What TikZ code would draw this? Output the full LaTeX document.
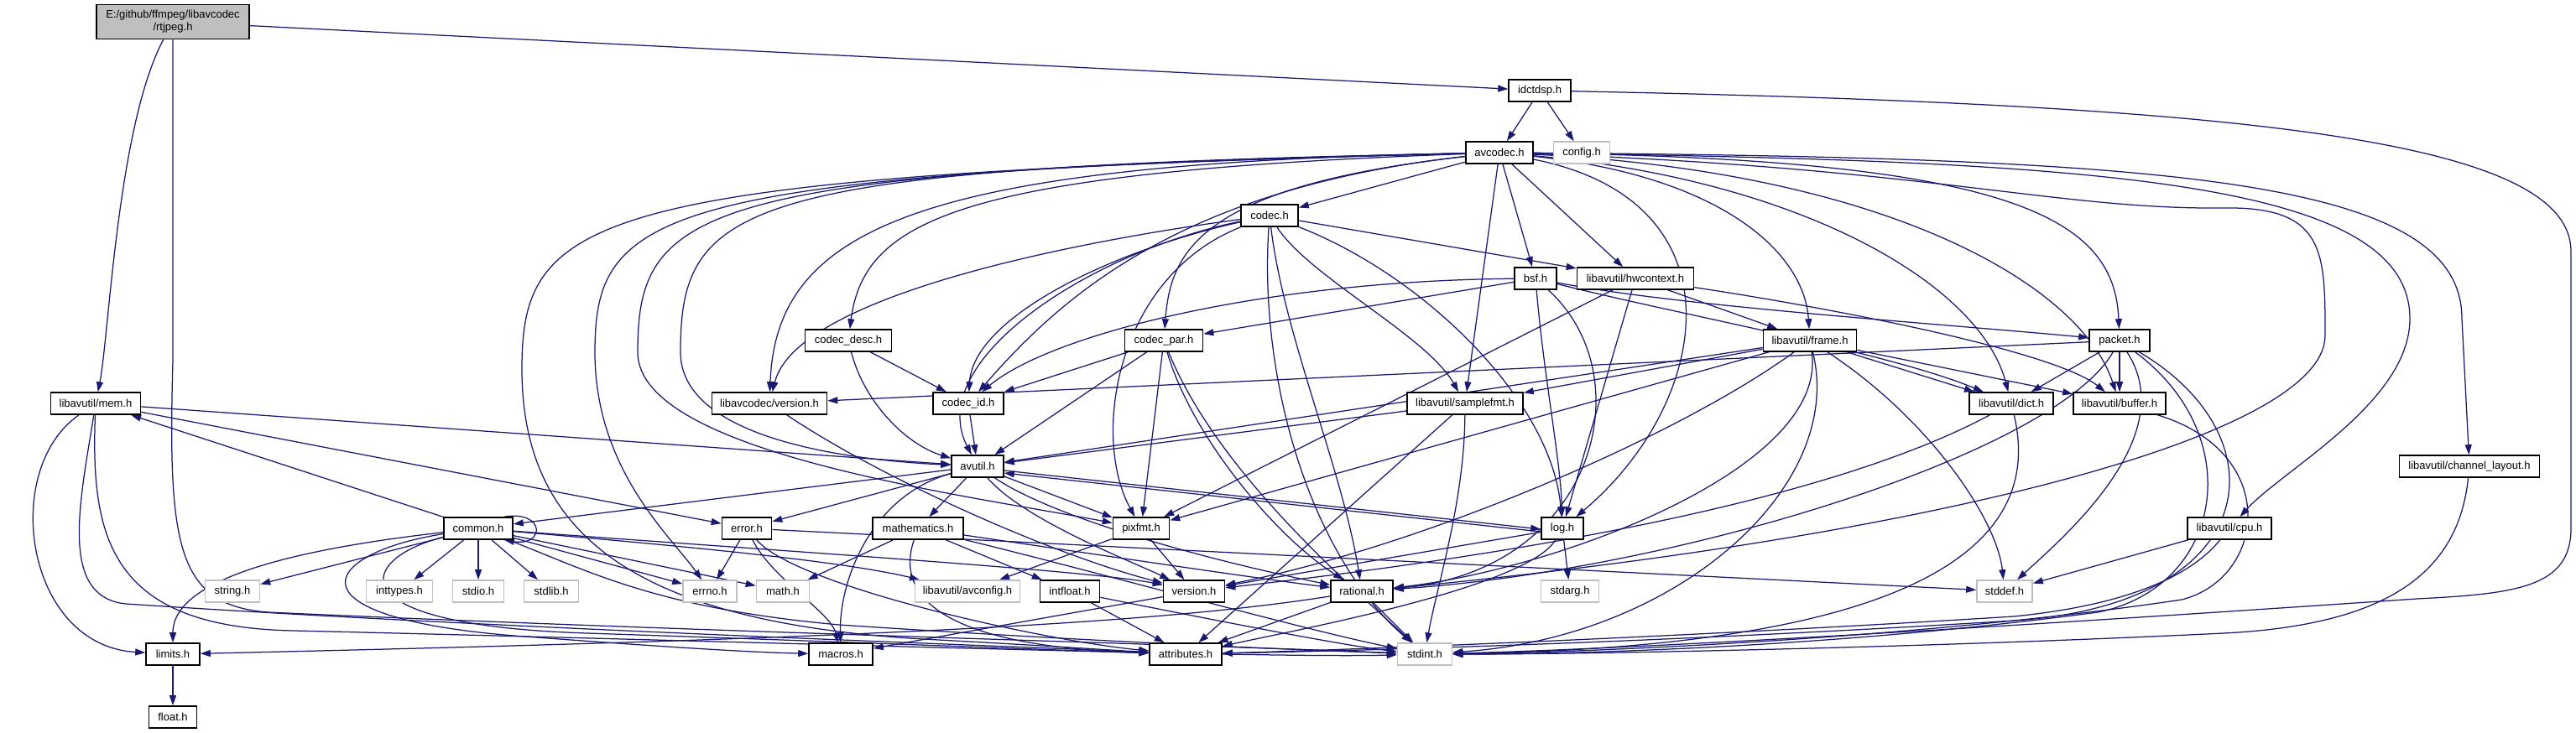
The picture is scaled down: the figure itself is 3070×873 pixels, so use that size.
\documentclass[tikz,border=0pt]{standalone}
\usepackage{fontspec}
\setmainfont{Liberation Sans}
\usetikzlibrary{arrows.meta,backgrounds}
\definecolor{edgec}{HTML}{191970}
\definecolor{grayb}{HTML}{BFBFBF}
\pgfdeclarelayer{back}
\pgfdeclarelayer{edges}
\pgfsetlayers{back,edges,main}
\newcommand\nfs{\fontsize{13}{15}\selectfont}
\begin{document}
\begin{tikzpicture}[x=1pt,y=-1pt,
  nb/.style={draw=black,line width=1.6pt,fill=white,minimum height=26pt,inner sep=0pt,font=\nfs},
  ng/.style={nb,draw=grayb},
  edg/.style={draw=edgec,line width=1.25pt,-{Triangle[length=12pt,width=8pt]}}]
\begin{pgfonlayer}{back}
\fill[white] (0,0) rectangle (3070,873);
\end{pgfonlayer}
\useasboundingbox (0,0) rectangle (3070,873);
% nodes
\node[nb,fill=grayb,minimum width=182pt,minimum height=41pt,align=center] (R) at (206,26) {E:/github/ffmpeg/libavcodec\\/rtjpeg.h};
\node[nb,minimum width=74pt] (I) at (1835,108) {idctdsp.h};
\node[nb,minimum width=80pt] (A) at (1787,182) {avcodec.h};
\node[ng,minimum width=67pt] (CFG) at (1885,182) {config.h};
\node[nb,minimum width=68pt] (C) at (1513,257) {codec.h};
\node[nb,minimum width=50pt] (B) at (1830,332) {bsf.h};
\node[nb,minimum width=139pt] (H) at (1949,332) {libavutil/hwcontext.h};
\node[nb,minimum width=103pt] (CD) at (1011,406) {codec\_desc.h};
\node[nb,minimum width=93pt] (CP) at (1387,406) {codec\_par.h};
\node[nb,minimum width=111pt] (F) at (2157,406) {libavutil/frame.h};
\node[nb,minimum width=72pt] (P) at (2526,406) {packet.h};
\node[nb,minimum width=107pt] (M) at (114,481) {libavutil/mem.h};
\node[nb,minimum width=137pt] (LV) at (917,481) {libavcodec/version.h};
\node[nb,minimum width=84pt] (CI) at (1154,481) {codec\_id.h};
\node[nb,minimum width=138pt] (S) at (1746,481) {libavutil/samplefmt.h};
\node[nb,minimum width=100pt] (D) at (2397,481) {libavutil/dict.h};
\node[nb,minimum width=110pt] (BU) at (2526,481) {libavutil/buffer.h};
\node[nb,minimum width=62pt] (AU) at (1165,556) {avutil.h};
\node[nb,minimum width=167pt] (CL) at (2943,556) {libavutil/channel\_layout.h};
\node[nb,minimum width=82pt] (CO) at (570,630) {common.h};
\node[nb,minimum width=59pt] (E) at (890,630) {error.h};
\node[nb,minimum width=108pt] (MA) at (1094,630) {mathematics.h};
\node[nb,minimum width=67pt] (PX) at (1360,630) {pixfmt.h};
\node[nb,minimum width=50pt] (L) at (1862,630) {log.h};
\node[nb,minimum width=100pt] (CPU) at (2657,630) {libavutil/cpu.h};
\node[ng,minimum width=65pt] (STR) at (277,705) {string.h};
\node[ng,minimum width=79pt] (INT) at (476,705) {inttypes.h};
\node[ng,minimum width=61pt] (SIO) at (570,705) {stdio.h};
\node[ng,minimum width=65pt] (SLB) at (657,705) {stdlib.h};
\node[ng,minimum width=64pt] (ERN) at (846,705) {errno.h};
\node[ng,minimum width=63pt] (MTH) at (933,705) {math.h};
\node[ng,minimum width=125pt] (AVC) at (1153,705) {libavutil/avconfig.h};
\node[nb,minimum width=71pt] (IF) at (1275,705) {intfloat.h};
\node[nb,minimum width=73pt] (V) at (1423,705) {version.h};
\node[nb,minimum width=74pt] (RA) at (1623,705) {rational.h};
\node[ng,minimum width=69pt] (SA) at (1871,705) {stdarg.h};
\node[ng,minimum width=66pt] (SD) at (2389,705) {stddef.h};
\node[nb,minimum width=64pt] (LI) at (206,780) {limits.h};
\node[nb,minimum width=76pt] (MAC) at (1002,780) {macros.h};
\node[nb,minimum width=86pt] (AT) at (1413,780) {attributes.h};
\node[ng,minimum width=65pt] (SI) at (1698,780) {stdint.h};
\node[nb,minimum width=57pt] (FL) at (206,855) {float.h};
\begin{pgfonlayer}{edges}
% rtjpeg
\draw[edg] (R) -- (I);
\draw[edg] (R) .. controls (140,150) and (130,400) .. (M);
\draw[edg] (R.south) -- (206,430) .. controls (200,650) and (210,722) .. (320,730) .. controls (800,752) and (1400,768) .. (SI);
% idctdsp
\draw[edg] (I) -- (A);
\draw[edg] (I) -- (CFG);
\draw[edg] (I) .. controls (2700,125) and (3064,170) .. (3064,300) -- (3064,630) .. controls (3064,700) and (3000,708) .. (2880,714) .. controls (2500,740) and (2000,772) .. (SI);
% avcodec
\draw[edg] (A) -- (C);
\draw[edg] (A) -- (B);
\draw[edg] (A) -- (H);
\draw[edg] (A) -- (S);
\draw[edg] (A) .. controls (2080,240) and (2040,480) .. (L);
\draw[edg] (A) .. controls (2050,210) and (2150,300) .. (F);
\draw[edg] (A) .. controls (2400,190) and (2520,260) .. (P);
\draw[edg] (A) .. controls (2150,215) and (2360,340) .. (D);
\draw[edg] (A) .. controls (2250,205) and (2480,340) .. (BU);
\draw[edg] (A) .. controls (2300,200) and (2450,250) .. (2650,248) .. controls (2771,246) and (2771,300) .. (2771,400) .. controls (2771,520) and (2300,640) .. (RA);
\draw[edg] (A) .. controls (2500,192) and (2872,215) .. (2872,380) .. controls (2872,480) and (2720,560) .. (CPU);
\draw[edg] (A) .. controls (2600,188) and (2934,215) .. (2934,380) -- (CL);
\draw[edg] (A) .. controls (1150,205) and (1030,260) .. (CD);
\draw[edg] (A) .. controls (1100,195) and (925,270) .. (LV);
\draw[edg] (A) .. controls (1430,222) and (1395,300) .. (CP);
\draw[edg] (A) .. controls (1400,225) and (1260,360) .. (CI);
\draw[edg] (A) .. controls (880,200) and (811,240) .. (811,420) .. controls (811,520) and (1000,548) .. (AU);
\draw[edg] (A) .. controls (830,203) and (760,245) .. (760,420) .. controls (760,540) and (1150,590) .. (PX);
\draw[edg] (A) .. controls (780,206) and (709,250) .. (709,420) .. controls (709,560) and (800,640) .. (ERN);
\draw[edg] (A) .. controls (700,209) and (622,255) .. (622,440) .. controls (622,640) and (760,742) .. (1100,762) .. controls (1250,770) and (1320,775) .. (AT);
% codec
\draw[edg] (C) .. controls (1300,285) and (950,350) .. (LV);
\draw[edg] (C) .. controls (1320,300) and (1160,380) .. (CI);
\draw[edg] (C) .. controls (1300,300) and (1100,430) .. (AU);
\draw[edg] (C) .. controls (1330,330) and (1300,520) .. (PX);
\draw[edg] (C) .. controls (1530,400) and (1600,560) .. (RA);
\draw[edg] (C) .. controls (1500,450) and (1560,660) .. (SI);
\draw[edg] (C) -- (H);
\draw[edg] (C) .. controls (1700,330) and (1850,480) .. (L);
\draw[edg] (C) .. controls (1560,330) and (1700,400) .. (S);
% bsf
\draw[edg] (B) .. controls (2000,365) and (2300,385) .. (P);
\draw[edg] (B) .. controls (2000,375) and (2250,420) .. (D);
\draw[edg] (B) .. controls (1840,450) and (1860,550) .. (L);
\draw[edg] (B) .. controls (1960,450) and (1900,680) .. (RA);
\draw[edg] (B) .. controls (1500,335) and (1250,400) .. (CI);
\draw[edg] (B) -- (CP);
% hwcontext
\draw[edg] (H) .. controls (2200,370) and (2450,420) .. (BU);
\draw[edg] (H) -- (F);
\draw[edg] (H) -- (L);
\draw[edg] (H) -- (PX);
% codec_desc
\draw[edg] (CD) -- (CI);
\draw[edg] (CD) .. controls (1030,480) and (1080,530) .. (AU);
% codec_par
\draw[edg] (CP) .. controls (1450,560) and (1600,690) .. (SI);
\draw[edg] (CP) -- (AU);
\draw[edg] (CP) .. controls (1420,520) and (1520,640) .. (RA);
\draw[edg] (CP) -- (PX);
\draw[edg] (CP) -- (CI);
% frame
\draw[edg] (F) .. controls (2300,500) and (2380,620) .. (SD);
\draw[edg] (F) .. controls (2200,580) and (2000,760) .. (SI);
\draw[edg] (F) -- (AU);
\draw[edg] (F) -- (BU);
\draw[edg] (F) -- (D);
\draw[edg] (F) .. controls (2180,560) and (1850,680) .. (RA);
\draw[edg] (F) -- (S);
\draw[edg] (F) -- (PX);
\draw[edg] (F) .. controls (2000,520) and (1700,650) .. (V);
% packet
\draw[edg] (P) .. controls (2600,520) and (2460,640) .. (SD);
\draw[edg] (P) .. controls (2680,520) and (2650,700) .. (2500,730) .. controls (2200,770) and (1900,780) .. (SI);
\draw[edg] (P) .. controls (2720,520) and (2700,720) .. (2400,740) .. controls (2000,765) and (1650,775) .. (AT);
\draw[edg] (P) -- (BU);
\draw[edg] (P) -- (D);
\draw[edg] (P) .. controls (2450,540) and (2000,680) .. (RA);
\draw[edg] (P) -- (LV);
% mem
\draw[edg] (M) .. controls (0,560) and (30,770) .. (LI);
\draw[edg] (M) .. controls (95,600) and (70,712) .. (150,720) .. controls (600,750) and (1200,770) .. (AT);
\draw[edg] (M) .. controls (108,640) and (130,748) .. (350,752) .. controls (900,765) and (1500,785) .. (SI);
\draw[edg] (M) -- (E);
\draw[edg] (M) -- (AU);
% libavcodec/version
\draw[edg] (LV) .. controls (1050,570) and (1250,660) .. (V);
% codec_id
\draw[edg] (CI) -- (AU);
% samplefmt
\draw[edg] (S) .. controls (1745,600) and (1712,700) .. (SI);
\draw[edg] (S) -- (AU);
\draw[edg] (S) -- (AT);
% dict, buffer, channel_layout
\draw[edg] (D) .. controls (2430,620) and (2350,770) .. (SI);
\draw[edg] (D) .. controls (2250,560) and (2000,640) .. (V);
\draw[edg] (BU) .. controls (2720,540) and (2700,690) .. (2600,715) .. controls (2300,760) and (1900,778) .. (SI);
\draw[edg] (CL) .. controls (2930,680) and (2850,745) .. (2650,755) .. controls (2300,772) and (1900,780) .. (SI);
% avutil
\draw[edg] (AU) -- (CO);
\draw[edg] (AU) -- (E);
\draw[edg] (AU) -- (MA);
\draw[edg] (AU) -- (PX);
\draw[edg] ([yshift=-5pt]AU.east) -- ([yshift=-1pt]L.west);
\draw[edg] ([yshift=-4pt]L.west) -- ([yshift=-8pt]AU.east);
\draw[edg] (AU) .. controls (1220,620) and (1350,670) .. (V);
\draw[edg] (AU) .. controls (1260,620) and (1450,670) .. (RA);
\draw[edg] (AU) .. controls (1040,590) and (1000,690) .. (MAC);
% log
\draw[edg] (L) -- (SA);
\draw[edg] (L) .. controls (1820,700) and (1550,750) .. (AT);
\draw[edg] (L) -- (V);
% common
\draw[edg] ([xshift=-11pt]CO.north east) .. controls (650,608) and (650,652) .. ([xshift=-11pt]CO.south east);
\draw[edg] (CO) -- (ERN);
\draw[edg] (CO) -- (INT);
\draw[edg] (CO) -- (SIO);
\draw[edg] (CO) -- (SLB);
\draw[edg] (CO) -- (STR);
\draw[edg] (CO) -- (MTH);
\draw[edg] (CO) .. controls (350,655) and (206,690) .. (LI);
\draw[edg] (CO) .. controls (380,660) and (330,740) .. (640,760) .. controls (800,772) and (900,778) .. (MAC);
\draw[edg] (CO) .. controls (430,665) and (390,745) .. (700,755) .. controls (1000,765) and (1250,775) .. (AT);
\draw[edg] (CO) .. controls (700,680) and (780,725) .. (1000,745) .. controls (1300,765) and (1550,775) .. (SI);
\draw[edg] (CO) .. controls (800,650) and (1000,668) .. (AVC);
\draw[edg] (CO) .. controls (900,655) and (1300,680) .. (V);
\draw[edg] (CO) -- (M);
% error
\draw[edg] (E) -- (ERN);
\draw[edg] (E) -- (SD);
\draw[edg] (E) .. controls (950,700) and (1250,765) .. (AT);
\draw[edg] (E) .. controls (920,690) and (990,730) .. (MAC);
% mathematics
\draw[edg] (MA) .. controls (1300,680) and (1550,750) .. (SI);
\draw[edg] (MA) -- (MTH);
\draw[edg] (MA) .. controls (1070,700) and (1100,770) .. (AT);
\draw[edg] (MA) .. controls (1300,660) and (1500,690) .. (RA);
\draw[edg] (MA) -- (IF);
% pixfmt
\draw[edg] (PX) -- (AVC);
\draw[edg] (PX) -- (V);
% cpu
\draw[edg] (CPU) -- (SD);
\draw[edg] (CPU) .. controls (2600,700) and (2500,725) .. (2400,735) .. controls (2000,760) and (1600,775) .. (AT);
% intfloat, version, rational, limits
\draw[edg] (IF) .. controls (1400,730) and (1600,770) .. (SI);
\draw[edg] (IF) -- (AT);
\draw[edg] (V) -- (MAC);
\draw[edg] (RA) -- (SI);
\draw[edg] (RA) -- (AT);
\draw[edg] (RA) .. controls (1400,740) and (1100,760) .. (LI);
\draw[edg] (LI) -- (FL);
\end{pgfonlayer}
\end{tikzpicture}
\end{document}
